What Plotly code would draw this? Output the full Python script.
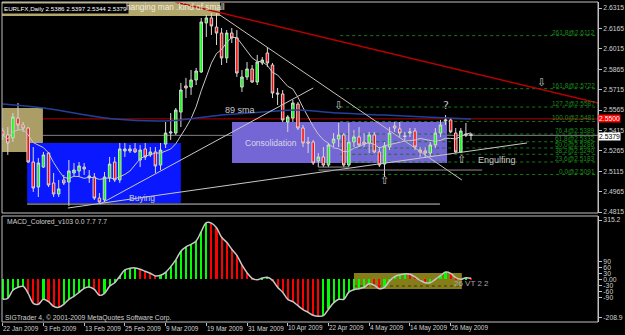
import plotly.graph_objects as go
import pandas as pd

# ---------------- data ----------------
date_labels = ["22 Jan 2009", "3 Feb 2009", "13 Feb 2009", "25 Feb 2009", "9 Mar 2009",
               "19 Mar 2009", "31 Mar 2009", "10 Apr 2009", "22 Apr 2009", "4 May 2009",
               "14 May 2009", "26 May 2009"]
date_bars = [0, 8, 16, 24, 32, 40, 48, 56, 64, 72, 80, 88]

opens = [2.5411, 2.5382, 2.5360, 2.5506, 2.5455, 2.5433, 2.5183, 2.4999, 2.5146, 2.5249,
         2.5029, 2.4948, 2.5051, 2.5036, 2.5102, 2.5117, 2.5146, 2.5066, 2.5073, 2.4918,
         2.4904, 2.5066, 2.5183, 2.5051, 2.5264, 2.5264, 2.5279, 2.5198, 2.5279, 2.5235,
         2.5257, 2.5161, 2.5315, 2.5396, 2.5396, 2.5550, 2.5742, 2.5734, 2.5786, 2.5845,
         2.6205, 2.6242, 2.6175, 2.6131, 2.5948, 2.6131, 2.6095, 2.5734, 2.5808, 2.5867,
         2.5771, 2.5911, 2.5984, 2.5896, 2.5690, 2.5683, 2.5477, 2.5506, 2.5609, 2.5433,
         2.5330, 2.5330, 2.5191, 2.5220, 2.5161, 2.5323, 2.5352, 2.5382, 2.5161, 2.5330,
         2.5367, 2.5330, 2.5323, 2.5382, 2.5257, 2.5168, 2.5293, 2.5448, 2.5426, 2.5374,
         2.5396, 2.5411, 2.5271, 2.5264, 2.5249, 2.5308, 2.5396, 2.5484, 2.5492, 2.5396,
         2.5257, 2.5389, 2.5386]
highs = [2.5433, 2.5440, 2.5543, 2.5617, 2.5477, 2.5440, 2.5293, 2.5213, 2.5257, 2.5257,
         2.5102, 2.5051, 2.5088, 2.5198, 2.5176, 2.5183, 2.5176, 2.5124, 2.5102, 2.4955,
         2.5110, 2.5220, 2.5220, 2.5323, 2.5323, 2.5308, 2.5323, 2.5308, 2.5323, 2.5293,
         2.5293, 2.5323, 2.5477, 2.5543, 2.5580, 2.5764, 2.5801, 2.5859, 2.5874, 2.6242,
         2.6264, 2.6278, 2.6278, 2.6168, 2.6153, 2.6168, 2.6153, 2.5859, 2.5918, 2.5896,
         2.5970, 2.5955, 2.6028, 2.5911, 2.5727, 2.5712, 2.5528, 2.5639, 2.5624, 2.5455,
         2.5367, 2.5345, 2.5249, 2.5293, 2.5323, 2.5396, 2.5470, 2.5396, 2.5470, 2.5418,
         2.5440, 2.5396, 2.5404, 2.5404, 2.5293, 2.5330, 2.5440, 2.5477, 2.5477, 2.5404,
         2.5433, 2.5433, 2.5293, 2.5293, 2.5330, 2.5433, 2.5492, 2.5528, 2.5506, 2.5433,
         2.5433, 2.5470, 2.5397]
lows = [2.5345, 2.5235, 2.5330, 2.5418, 2.5404, 2.5176, 2.4963, 2.4926, 2.5139, 2.4999,
        2.4926, 2.4926, 2.5014, 2.4860, 2.5073, 2.5073, 2.5088, 2.5029, 2.4904, 2.4882,
        2.4889, 2.5036, 2.5036, 2.5029, 2.5220, 2.5249, 2.5249, 2.5146, 2.5198, 2.5220,
        2.5102, 2.5124, 2.5286, 2.5345, 2.5382, 2.5440, 2.5653, 2.5676, 2.5749, 2.5837,
        2.6102, 2.6117, 2.6043, 2.5896, 2.5911, 2.6058, 2.5808, 2.5698, 2.5786, 2.5764,
        2.5749, 2.5896, 2.5881, 2.5653, 2.5602, 2.5477, 2.5404, 2.5477, 2.5418, 2.5293,
        2.5249, 2.5161, 2.5146, 2.5146, 2.5146, 2.5293, 2.5293, 2.5146, 2.5146, 2.5293,
        2.5293, 2.5293, 2.5249, 2.5249, 2.5146, 2.5073, 2.5271, 2.5404, 2.5367, 2.5345,
        2.5367, 2.5271, 2.5220, 2.5213, 2.5220, 2.5286, 2.5367, 2.5455, 2.5396, 2.5249,
        2.5249, 2.5367, 2.5344]
closes = [2.5382, 2.5323, 2.5514, 2.5455, 2.5433, 2.5183, 2.4992, 2.5176, 2.5235, 2.5014,
          2.4948, 2.4985, 2.5029, 2.5117, 2.5124, 2.5154, 2.5132, 2.5080, 2.4918, 2.4889,
          2.5073, 2.5168, 2.5051, 2.5279, 2.5279, 2.5279, 2.5257, 2.5271, 2.5220, 2.5257,
          2.5154, 2.5271, 2.5396, 2.5404, 2.5565, 2.5712, 2.5727, 2.5786, 2.5852, 2.6212,
          2.6242, 2.6183, 2.6131, 2.5948, 2.6131, 2.6095, 2.5837, 2.5808, 2.5867, 2.5771,
          2.5918, 2.5933, 2.5911, 2.5690, 2.5683, 2.5492, 2.5514, 2.5617, 2.5433, 2.5323,
          2.5323, 2.5176, 2.5220, 2.5161, 2.5308, 2.5352, 2.5382, 2.5161, 2.5330, 2.5367,
          2.5308, 2.5315, 2.5382, 2.5257, 2.5161, 2.5301, 2.5396, 2.5433, 2.5396, 2.5371,
          2.5404, 2.5293, 2.5257, 2.5249, 2.5308, 2.5396, 2.5455, 2.5492, 2.5404, 2.5257,
          2.5411, 2.5382, 2.5379]

macd = [-100, -95, -55, -40, -35, -70, -120, -125, -100, -112,
        -135, -140, -125, -100, -85, -65, -45, -38, -50, -80,
        -70, -35, -17, 15, 47, 55, 57, 50, 40, 30,
        17, 20, 35, 63, 97, 140, 162, 175, 192, 238,
        283, 281, 258, 210, 185, 150, 120, 72, 33, 5,
        -2, 6, 10, -5, -40, -65, -100, -112, -132, -152,
        -165, -180, -185, -182, -150, -118, -100, -100, -64, -52,
        -47, -40, -22, -30, -47, -40, -8, 13, 22, 27,
        25, 12, -5, -17, -17, 0, 18, 36, 30, 8,
        0, 8, 5]

sma89_bars = [0, 8, 22, 31, 35, 43, 51, 58, 66, 75, 83, 92]
sma89_vals = [2.5609, 2.5580, 2.5499, 2.5484, 2.5492, 2.5528, 2.5550, 2.5565, 2.5543, 2.5528, 2.5514, 2.5499]

price_ticks = [2.6315, 2.6165, 2.6015, 2.5865, 2.5715, 2.5565, 2.5415, 2.5265, 2.5115, 2.4965, 2.4815]
macd_tick_vals = [296, 90, 60, 30, 0, -30, -60, -90, -190]
macd_tick_text = ["315.2", "90", "60", "30", "0.00", "-30", "-60", "-90", "-208.9"]

fib_levels = ["261.8", "161.8", "127.2", "100.0", "76.4", "61.8", "50.0", "38.2", "23.6", "0.0"]
fib_prices = [2.6112, 2.5722, 2.5587, 2.5481, 2.5389, 2.5332, 2.5286, 2.5240, 2.5183, 2.5091]

last_price = 2.5379
alert_price = 2.5500
header = "EURLFX,Daily 2.5386 2.5397 2.5344 2.5379"

# ---------------- figure ----------------
bars = list(range(len(opens)))
sma8 = pd.Series(closes).rolling(8, min_periods=1).mean()
macd_colors = ["#00ff00" if i == 0 or macd[i] >= macd[i - 1] else "#ff0000" for i in range(len(macd))]

FONT = "Liberation Sans, Arial, sans-serif"
XR = [-0.14, 116.95]
YR = [2.480825, 2.63591]
YR2 = [-213.5, 316.5]

fig = go.Figure()
fig.add_trace(go.Candlestick(
    x=bars, open=opens, high=highs, low=lows, close=closes,
    increasing=dict(line=dict(color="#d8d8d8", width=1), fillcolor="#00ff00"),
    decreasing=dict(line=dict(color="#d8d8d8", width=1), fillcolor="#ff0000"),
    whiskerwidth=0, xaxis="x", yaxis="y", showlegend=False, hoverinfo="skip"))
fig.add_trace(go.Scatter(x=bars, y=sma8, mode="lines", line=dict(color="#c8c8c8", width=1),
                         xaxis="x", yaxis="y", showlegend=False, hoverinfo="skip"))
fig.add_trace(go.Scatter(x=sma89_bars, y=sma89_vals, mode="lines",
                         line=dict(color="#23409a", width=1.5, shape="spline"),
                         xaxis="x", yaxis="y", showlegend=False, hoverinfo="skip"))
fig.add_trace(go.Bar(x=bars, y=macd, marker=dict(color=macd_colors, line=dict(width=0)), width=0.42,
                     xaxis="x2", yaxis="y2", showlegend=False, hoverinfo="skip"))
fig.add_trace(go.Scatter(x=bars, y=macd, mode="lines", line=dict(color="#c8c8c8", width=1.5, shape="spline"),
                         xaxis="x2", yaxis="y2", showlegend=False, hoverinfo="skip"))

shapes = []
# background objects
shapes.append(dict(type="rect", xref="x", yref="y", x0=-1, x1=42.7, y0=2.6256, y1=2.64,
                   fillcolor="#b3a76c", line=dict(width=0), layer="below"))
shapes.append(dict(type="rect", xref="x", yref="y", x0=-1, x1=7.9, y0=2.5257, y1=2.5580,
                   fillcolor="#aa9e66", line=dict(width=0), layer="below"))
shapes.append(dict(type="rect", xref="x", yref="y", x0=4.8, x1=35.0, y0=2.4882, y1=2.5323,
                   fillcolor="#0a18ff", line=dict(width=0), layer="below"))
shapes.append(dict(type="rect", xref="x", yref="y", x0=45.05, x1=87.3, y0=2.5176, y1=2.5477,
                   fillcolor="#7566d6", line=dict(width=0), layer="below"))
# horizontal price lines
shapes.append(dict(type="line", xref="paper", yref="y", x0=0, x1=1, y0=alert_price, y1=alert_price,
                   line=dict(color="#b00000", width=1), layer="below"))
shapes.append(dict(type="line", xref="paper", yref="y", x0=0, x1=1, y0=last_price, y1=last_price,
                   line=dict(color="#808080", width=1), layer="below"))
# fibonacci levels
for p in fib_prices:
    shapes.append(dict(type="line", xref="x", yref="y", x0=66.3, x1=XR[1], y0=p, y1=p,
                       line=dict(color="#127a12", width=1, dash="dot"), layer="below"))
# trend lines
trend = [
    (33.9, 2.6359, 117.0, 2.5617, "#b80000", 1.5),
    (42.1, 2.6278, 90.2, 2.5051, "#c8c4b8", 1),
    (19.1, 2.4874, 61.0, 2.5727, "#c8c8c8", 1),
    (12.8, 2.4845, 103.0, 2.5323, "#c8c8c8", 1),
    (4.8, 2.4874, 85.9, 2.4874, "#c8c8c8", 1),
    (62.0, 2.5124, 94.2, 2.5124, "#909090", 1),
    (62.0, 2.5146, 68.0, 2.5146, "#909090", 1),
]
for x0, y0, x1, y1, c, w in trend:
    shapes.append(dict(type="line", xref="x", yref="y", x0=x0, y0=y0, x1=x1, y1=y1,
                       line=dict(color=c, width=w), layer="above"))
# MACD olive box
shapes.append(dict(type="rect", xref="x2", yref="y2", x0=69.0, x1=90.2, y0=-48.5, y1=31.5,
                   fillcolor="#857d1a", line=dict(width=0), layer="below"))
shapes.append(dict(type="line", xref="x2", yref="y2", x0=69.0, x1=90.2, y0=-33.5, y1=-33.5,
                   line=dict(color="#3a3608", width=1, dash="dot"), layer="below"))
# panel frames
shapes.append(dict(type="rect", xref="paper", yref="paper", x0=0, x1=1, y0=0.340625, y1=1,
                   line=dict(color="#c0c0c0", width=1), layer="above"))
shapes.append(dict(type="rect", xref="paper", yref="paper", x0=0, x1=1, y0=0, y1=0.33125,
                   line=dict(color="#c0c0c0", width=1), layer="above"))

ann = []
txt = "#c8c8c8"
ann.append(dict(xref="paper", yref="paper", x=0, y=1, xanchor="left", yanchor="top", yshift=-1,
                text=header, showarrow=False, bgcolor="#000000", borderpad=1,
                font=dict(family=FONT, size=6.2, color="#ffffff")))
ann.append(dict(xref="x", yref="y", x=23.8, y=2.6322, xanchor="left", yanchor="middle",
                text="hanging man .kind of small", showarrow=False,
                font=dict(family=FONT, size=8.3, color="#ecece4")))
ann.append(dict(xref="x", yref="y", x=43.3, y=2.5565, xanchor="left", yanchor="middle",
                text="89 sma", showarrow=False, font=dict(family=FONT, size=9, color=txt)))
ann.append(dict(xref="x", yref="y", x=47.2, y=2.5323, xanchor="left", yanchor="middle",
                text="Consolidation", showarrow=False, font=dict(family=FONT, size=8.5, color="#d8d8e8")))
ann.append(dict(xref="x", yref="y", x=24.4, y=2.4918, xanchor="left", yanchor="middle",
                text="Buying", showarrow=False, font=dict(family=FONT, size=8.5, color=txt)))
ann.append(dict(xref="x", yref="y", x=93.0, y=2.5198, xanchor="left", yanchor="middle",
                text="Engulfing", showarrow=False, font=dict(family=FONT, size=9, color=txt)))
arrows = [("\u21e9", 65.9, 2.5595), ("\u21e9", 105.8, 2.5771), ("\u21e7", 75.1, 2.5044),
          ("\u21e7", 90.2, 2.5198), ("?", 87.1, 2.5602)]
for t, x, y in arrows:
    ann.append(dict(xref="x", yref="y", x=x, y=y, text=t, showarrow=False,
                    font=dict(family="DejaVu Sans", size=11, color="#c0c0c0")))
for lvl, p in zip(fib_levels, fib_prices):
    ann.append(dict(xref="paper", yref="y", x=0.998, y=p, xanchor="right", yanchor="bottom", yshift=-2,
                    text=f"{lvl}@{p:.4f}", showarrow=False,
                    font=dict(family=FONT, size=6.5, color="#1c8a1c")))
ann.append(dict(xref="paper", yref="y", x=1, y=alert_price, xanchor="left", yanchor="middle",
                text=f"{alert_price:.4f}", showarrow=False, bgcolor="#ff0000", borderpad=0,
                font=dict(family=FONT, size=6.8, color="#ffffff")))
ann.append(dict(xref="paper", yref="y", x=1, y=last_price, xanchor="left", yanchor="middle", yshift=-1,
                text=f"{last_price:.4f}", showarrow=False, bgcolor="#ffffff", borderpad=0,
                font=dict(family=FONT, size=6.8, color="#000000")))
ann.append(dict(xref="paper", yref="paper", x=0.005, y=0.3125, xanchor="left", yanchor="middle",
                text="MACD_Colored_v103 0.0 7.7 7.7", showarrow=False,
                font=dict(family=FONT, size=6.8, color="#d0d0d0")))
ann.append(dict(xref="paper", yref="paper", x=0.0017, y=0.0125, xanchor="left", yanchor="middle",
                text="SIGTrader 4, \u00a9 2001-2009 MetaQuotes Software Corp.", showarrow=False,
                font=dict(family=FONT, size=6.8, color="#d0d0d0")))
ann.append(dict(xref="x2", yref="y2", x=88.3, y=-18.5, xanchor="left", yanchor="middle",
                text="26 VT 2 2", showarrow=False, font=dict(family=FONT, size=8, color="#a8a8a8")))
for b, lab in zip(date_bars, date_labels):
    ann.append(dict(xref="x2", yref="paper", x=b, y=-0.01875, xanchor="left", yanchor="middle",
                    xshift=-1.5, text=lab, showarrow=False,
                    font=dict(family=FONT, size=6.4, color="#d0d0d0")))

axis_common = dict(showgrid=False, zeroline=False)
fig.update_layout(
    width=625, height=335, margin=dict(l=2, r=27, t=2, b=13),
    paper_bgcolor="#000000", plot_bgcolor="#000000", showlegend=False,
    bargap=0,
    xaxis=dict(domain=[0, 1], range=XR, anchor="y", showticklabels=False, showline=False,
               rangeslider=dict(visible=False), **axis_common),
    xaxis2=dict(domain=[0, 1], range=XR, anchor="y2", matches="x", tickvals=date_bars,
                showticklabels=False, ticks="outside", ticklen=3, tickcolor="#c0c0c0",
                showline=False, **axis_common),
    yaxis=dict(domain=[0.340625, 1], range=YR, anchor="x", side="right",
               tickvals=price_ticks, ticktext=[f"{v:.4f}" for v in price_ticks],
               ticks="outside", ticklen=3, tickcolor="#c0c0c0",
               tickfont=dict(family=FONT, size=6.8, color="#d0d0d0"),
               showline=True, linecolor="#c0c0c0", **axis_common),
    yaxis2=dict(domain=[0, 0.33125], range=YR2, anchor="x2", side="right",
                tickvals=macd_tick_vals, ticktext=macd_tick_text,
                ticks="outside", ticklen=3, tickcolor="#c0c0c0",
                tickfont=dict(family=FONT, size=6.8, color="#d0d0d0"),
                showline=True, linecolor="#c0c0c0", **axis_common),
    shapes=shapes, annotations=ann,
)

fig.write_html("out.html")
